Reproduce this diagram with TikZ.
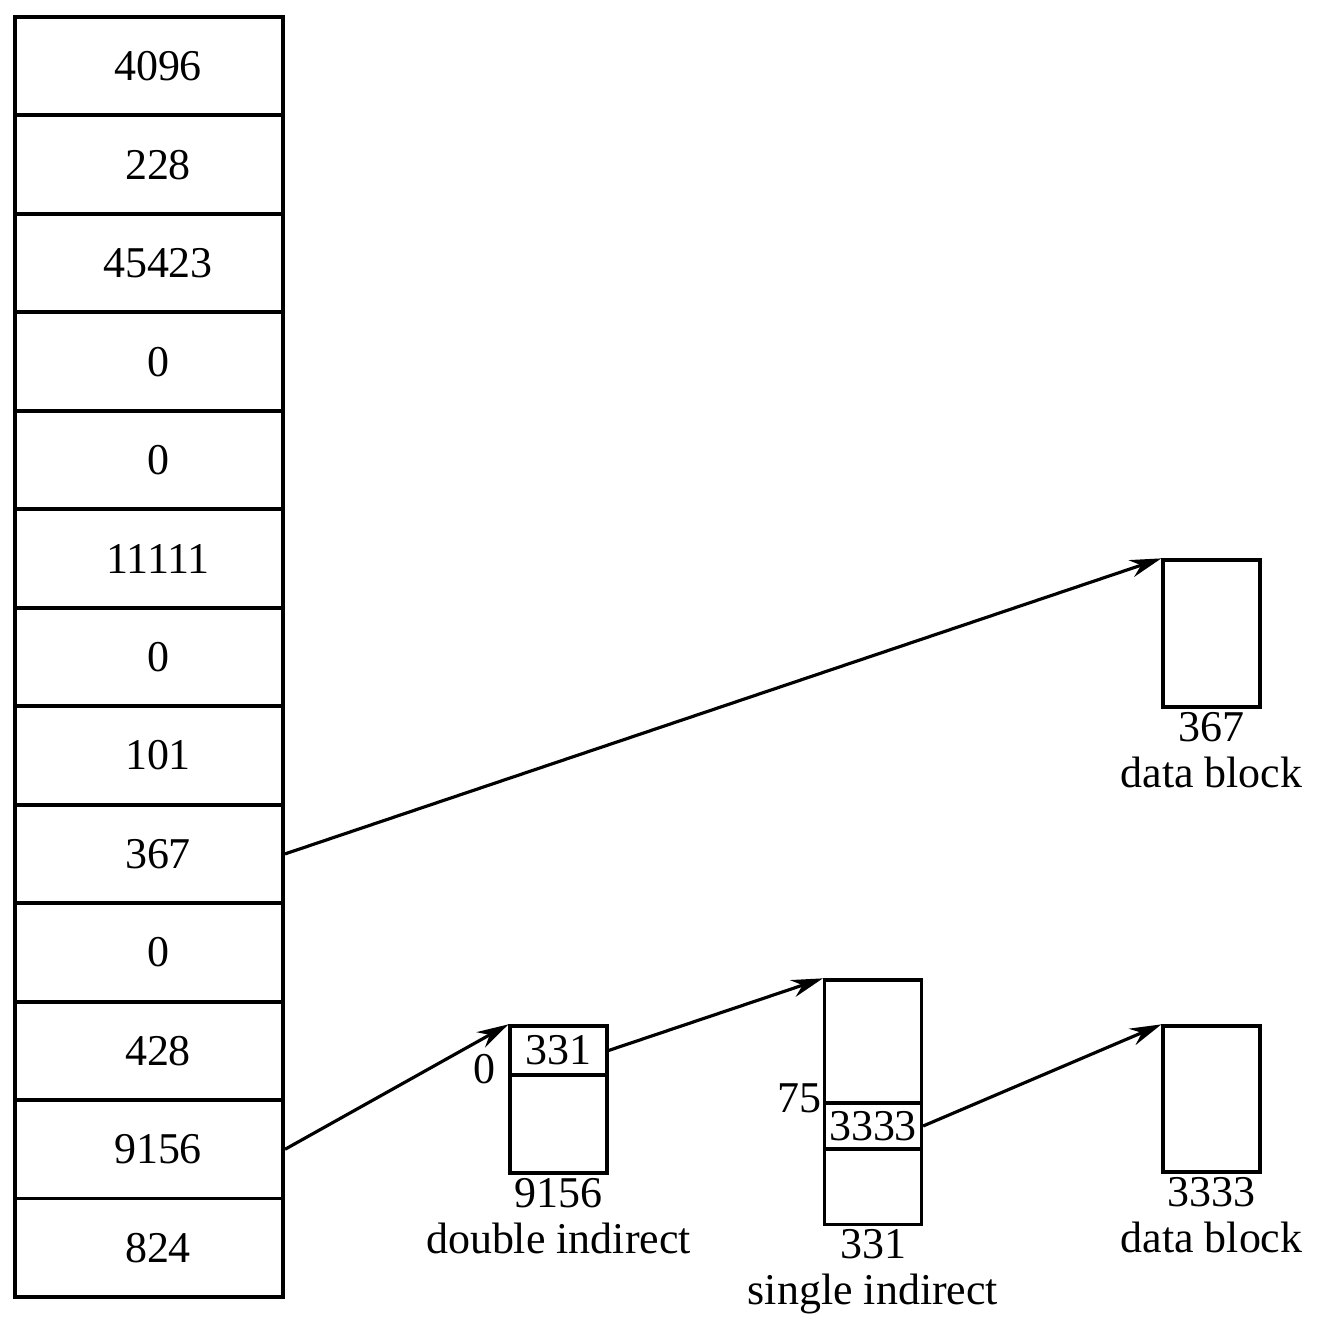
\documentclass[tikz,border=0pt]{standalone}
\usepackage{fontspec}
\setmainfont{Liberation Serif}
\usetikzlibrary{arrows.meta,positioning}

\tikzset{
    celda/.style={draw, line width=1.1pt, minimum width=2.68cm, minimum height=0.9846cm, inner sep=0pt,
        execute at begin node=\hspace*{0.18cm}},
    bloque/.style={draw, line width=0.9pt, minimum width=0.97cm, inner sep=0pt},
    flecha/.style={line width=0.9pt, -{Stealth[length=9pt,width=5pt]}},
    rotulo/.style={inner sep=1pt, align=center}
}

\begin{document}
\begin{tikzpicture}[x=0.01cm, y=-0.01cm, font=\fontsize{12.5}{15}\selectfont]
    \useasboundingbox (0,0) rectangle (1322,1322);

    % Columna de direcciones
    \foreach \val [count=\i] in {4096,228,45423,0,0,11111,0,101,367,0,428,9156,824}
        \node[celda] (c\i) at (149, {17+98.46*(\i-0.5)}) {\val};

    % Bloque de datos 367
    \node[bloque, minimum height=1.47cm] (dat367) at (1211.5,633.5) {};
    \node[rotulo, below=0pt of dat367] (num367) {367\\[-2pt]data block};

    % Indirecto doble
    \node[bloque, minimum height=1.47cm] (dbl) at (558.5,1099.5) {};
    \node[bloque, minimum height=0.49cm, anchor=north] (dbl331) at (dbl.north) {331};
    \node[left=0pt of dbl331.south west, yshift=2pt] (cero) {0};
    \node[rotulo, below=0pt of dbl] (numdbl) {9156\\[-2pt]double indirect};

    % Indirecto simple
    \node[bloque, minimum height=2.44cm] (sgl) at (873,1102) {};
    \node[bloque, minimum height=0.46cm] (sgl3333) at (873,1126) {3333};
    \node[left=-3pt of sgl3333.north west, yshift=1pt] (setenta) {75};
    \node[rotulo, below=0pt of sgl] (numsgl) {331\\[-2pt]single indirect};

    % Bloque de datos 3333
    \node[bloque, minimum height=1.46cm] (dat3333) at (1211.5,1099) {};
    \node[rotulo, below=0pt of dat3333] (num3333) {3333\\[-2pt]data block};

    % Punteros
    \draw[flecha] (c9.east) -- (dat367.north west);
    \draw[flecha] (c12.east) -- (dbl.north west);
    \draw[flecha] (dbl331.east) -- (sgl.north west);
    \draw[flecha] (sgl3333.east) -- (dat3333.north west);
\end{tikzpicture}
\end{document}
